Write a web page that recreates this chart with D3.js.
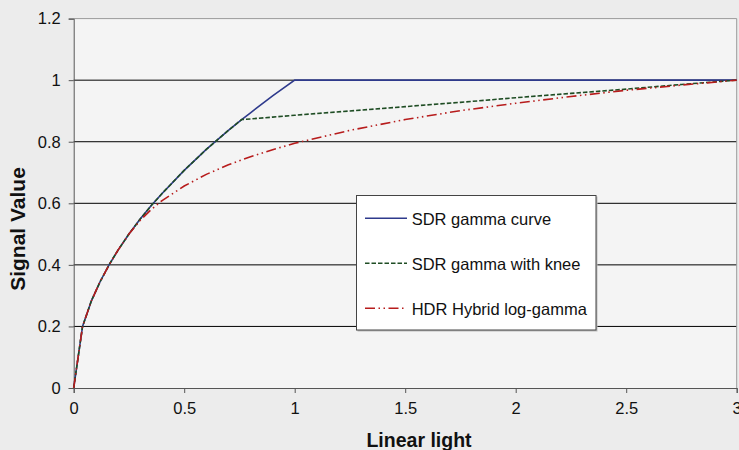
<!DOCTYPE html>
<html>
<head>
<meta charset="utf-8">
<script src="https://cdn.jsdelivr.net/npm/d3@7"></script>
<style>
  html, body { margin: 0; padding: 0; background: #ececec; }
  svg { display: block; }
  text { font-family: "Liberation Sans", Arial, sans-serif; }
</style>
</head>
<body>
<script>
// values
const lightX   = [0, 0.04, 0.08, 0.12, 0.16, 0.2, 0.25, 0.3, 0.35, 0.4, 0.5, 0.6, 0.7, 0.76, 0.8, 0.9, 1.0, 1.25, 1.5, 1.75, 2.0, 2.25, 2.5, 2.75, 3.0];
const sdrGamma = [0, 0.2, 0.283, 0.346, 0.4, 0.447, 0.5, 0.548, 0.592, 0.632, 0.707, 0.775, 0.837, 0.872, 0.894, 0.949, 1, 1, 1, 1, 1, 1, 1, 1, 1];
const sdrKnee  = [0, 0.2, 0.283, 0.346, 0.4, 0.447, 0.5, 0.548, 0.592, 0.632, 0.707, 0.775, 0.837, 0.872, 0.874, 0.880, 0.886, 0.900, 0.914, 0.928, 0.943, 0.957, 0.971, 0.986, 1];
const hdrHlg   = [0, 0.2, 0.283, 0.346, 0.4, 0.447, 0.5, 0.544, 0.579, 0.609, 0.656, 0.694, 0.725, 0.741, 0.751, 0.774, 0.795, 0.837, 0.872, 0.901, 0.925, 0.947, 0.967, 0.984, 1];
const seriesNames = ["SDR gamma curve", "SDR gamma with knee", "HDR Hybrid log-gamma"];
const xTicks = [0, 0.5, 1, 1.5, 2, 2.5, 3];
const yTicks = [0, 0.2, 0.4, 0.6, 0.8, 1, 1.2];

const width = 739, height = 450;
const plotL = 73.7, plotR = 736.7, plotT = 18.6, plotB = 388;

const x = d3.scaleLinear().domain([0, 3]).range([plotL, plotR]);
const y = d3.scaleLinear().domain([0, 1.2]).range([plotB, plotT]);

const styles = [
  { color: "#2e3a8c", dash: null },
  { color: "#1f4d24", dash: "4.5,2" },
  { color: "#b71c1c", dash: "10,3.5,1.5,3.5,1.5,3.5" }
];

const svg = d3.select("body").append("svg")
  .attr("width", width)
  .attr("height", height);

svg.append("rect").attr("width", width).attr("height", height).attr("fill", "#ececec");

// plot area
svg.append("rect")
  .attr("x", plotL).attr("y", plotT)
  .attr("width", plotR - plotL).attr("height", plotB - plotT)
  .attr("fill", "#f4f4f4");

// gridlines
svg.append("g")
  .selectAll("line")
  .data(yTicks.filter(d => d > 0 && d < 1.2))
  .join("line")
  .attr("x1", plotL).attr("x2", plotR)
  .attr("y1", d => y(d)).attr("y2", d => y(d))
  .attr("stroke", "#000").attr("stroke-width", 1);

// top and right border
svg.append("path")
  .attr("d", `M${plotL},${y(1.2)}H${plotR}V${plotB}`)
  .attr("fill", "none").attr("stroke", "#9a9a9a").attr("stroke-width", 1);

// axes
const yAxis = d3.axisLeft(y).tickValues(yTicks).tickSize(5).tickPadding(8)
  .tickFormat(d => d3.format("~g")(d));
const xAxis = d3.axisBottom(x).tickValues(xTicks).tickSize(5).tickPadding(9)
  .tickFormat(d => d3.format("~g")(d));

svg.append("g").attr("transform", `translate(${plotL},0)`).call(yAxis)
  .call(g => g.select(".domain").attr("stroke", "#555"))
  .call(g => g.selectAll(".tick line").attr("stroke", "#555"))
  .call(g => g.selectAll("text").attr("font-size", "16.5px").attr("fill", "#111")
    .attr("font-family", "Liberation Sans, Arial, sans-serif"));

svg.append("g").attr("transform", `translate(0,${plotB})`).call(xAxis)
  .call(g => g.select(".domain").attr("stroke", "#555"))
  .call(g => g.selectAll(".tick line").attr("stroke", "#555"))
  .call(g => g.selectAll("text").attr("font-size", "16.5px").attr("fill", "#111")
    .attr("font-family", "Liberation Sans, Arial, sans-serif"));

// curves
const series = [sdrGamma, sdrKnee, hdrHlg];
const line = d3.line().x((d, i) => x(lightX[i])).y(d => y(d));

svg.append("g")
  .selectAll("path")
  .data(series)
  .join("path")
  .attr("d", line)
  .attr("fill", "none")
  .attr("stroke", (d, i) => styles[i].color)
  .attr("stroke-width", 1.6)
  .attr("stroke-dasharray", (d, i) => styles[i].dash);

// axis titles
svg.append("text")
  .attr("x", 419).attr("y", 446.5)
  .attr("text-anchor", "middle")
  .attr("font-size", "19.5px").attr("font-weight", "bold").attr("fill", "#111")
  .text("Linear light");

svg.append("text")
  .attr("transform", "translate(25,229) rotate(-90)")
  .attr("text-anchor", "middle")
  .attr("font-size", "21px").attr("font-weight", "bold").attr("fill", "#111")
  .text("Signal Value");

// legend
const legend = svg.append("g").attr("transform", "translate(356,195)");
legend.append("rect")
  .attr("x", 1.5).attr("y", 1.5).attr("width", 240).attr("height", 135)
  .attr("fill", "#bbb");
legend.append("rect")
  .attr("x", 0.5).attr("y", 0.5).attr("width", 239.5).attr("height", 134.5)
  .attr("fill", "#fff").attr("stroke", "#444").attr("stroke-width", 1);

const rows = legend.selectAll("g.row")
  .data(seriesNames)
  .join("g")
  .attr("class", "row")
  .attr("transform", (d, i) => `translate(0,${23.3 + i * 45})`);

rows.append("line")
  .attr("x1", 9).attr("x2", 51)
  .attr("stroke", (d, i) => styles[i].color)
  .attr("stroke-width", 1.6)
  .attr("stroke-dasharray", (d, i) => styles[i].dash);

rows.append("text")
  .attr("x", 55.7).attr("y", 6.5)
  .attr("font-size", "16.5px").attr("fill", "#111")
  .text(d => d);
</script>
</body>
</html>
